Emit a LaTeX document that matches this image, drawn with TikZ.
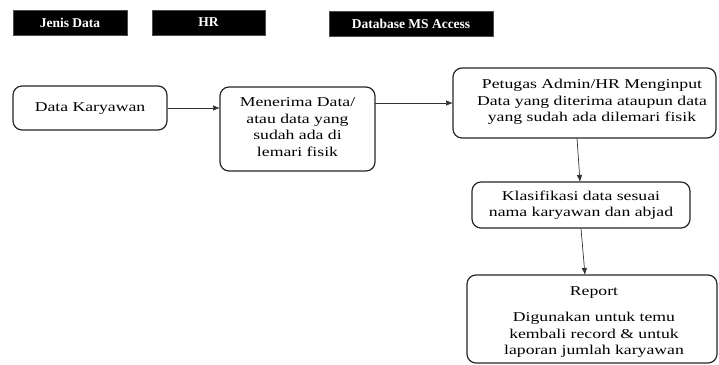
\documentclass[tikz,border=0pt]{standalone}
\usepackage{fontspec}
\usepackage{graphicx}
\setmainfont{Liberation Serif}
\usetikzlibrary{arrows.meta}
\newcommand{\wt}[1]{\scalebox{1.31}[1]{\fontsize{13.5}{16.5}\selectfont\begin{tabular}{@{}c@{}}#1\end{tabular}}}
\begin{document}
\begin{tikzpicture}[x=1pt,y=-1pt,
  hdr/.style={fill=black,draw=black!70,text=white,font=\bfseries\fontsize{13.5}{15}\selectfont,inner sep=0pt},
  box/.style={draw=black!85,line width=1.2pt,rounded corners=9pt,inner sep=0pt},
  txt/.style={inner sep=0pt},
  arr/.style={draw=black!80,line width=0.7pt,-{Latex[length=7pt,width=5.5pt]}}]
\useasboundingbox (0,0) rectangle (719,364);
\node[hdr,minimum width=114pt,minimum height=25pt] (h1) at (70,22.5) {Jenis Data};
\node[hdr,minimum width=113pt,minimum height=25pt] (h2) at (208.5,22.5) {HR};
\node[hdr,minimum width=164pt,minimum height=25pt] (h3) at (411,23.5) {Database MS Access};

\node[box,minimum width=154pt,minimum height=44pt] (dk) at (90,108) {\wt{Data Karyawan}};
\draw[box] (220,87) rectangle (375,171);
\node[txt] (mt) at (297.5,128) {\wt{Menerima Data/\\atau data yang\\sudah ada di\\lemari fisik}};
\coordinate (mtl) at (220,108);
\coordinate (mtr) at (375,103);
\draw[box] (453,68) rectangle (716,138);
\node[txt] (pt) at (592,102) {\wt{Petugas Admin/HR Menginput\\Data yang diterima ataupun data\\yang sudah ada dilemari fisik}};
\coordinate (ptl) at (453,103);
\coordinate (ptb) at (577,138);
\node[box,minimum width=218pt,minimum height=46pt] (kl) at (581,205) {\wt{Klasifikasi data sesuai\\nama karyawan dan abjad}};
\draw[box] (467,275) rectangle (717,363);
\node[txt] (rp) at (594,292) {\wt{Report}};
\node[txt] (rd) at (594,335) {\wt{Digunakan untuk temu\\kembali record \& untuk\\laporan jumlah karyawan}};
\coordinate (rpt) at (585,275);

\draw[arr] (dk.east) -- (mtl);
\draw[arr] (mtr) -- (ptl);
\draw[arr] (ptb) -- (580,182);
\draw[arr] (kl.south) -- (rpt);
\end{tikzpicture}
\end{document}
